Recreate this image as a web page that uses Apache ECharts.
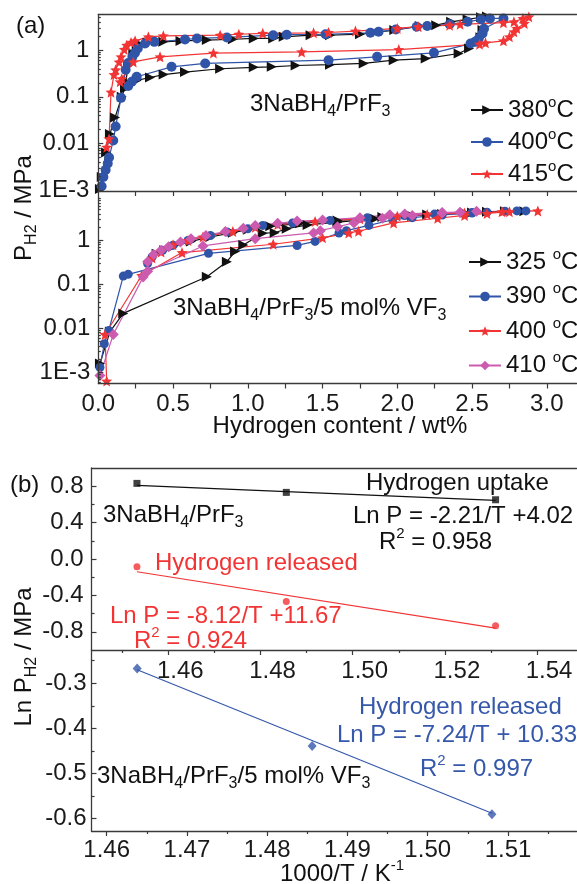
<!DOCTYPE html>
<html>
<head>
<meta charset="utf-8">
<script src="https://cdn.jsdelivr.net/npm/echarts@6/dist/echarts.min.js"></script>
<style>
html,body{margin:0;padding:0;background:#fff;}
#c{width:577px;height:884px;}
</style>
</head>
<body>
<div id="c"></div>
<script>
// ---------- (a) PCI isotherms: [wt% H, P (MPa)] ----------
const pci380 = [[0.011,0.00105],[0.023,0.0019],[0.052,0.0064],[0.078,0.016],[0.112,0.036],[0.157,0.1],[0.179,0.16],[0.2,0.48],[0.234,0.85],[0.257,1.18],[0.268,1.39],[0.33,1.45],[0.435,1.51],[0.55,1.58],[0.726,1.65],[0.9,1.72],[1.04,1.79],[1.17,1.79],[1.24,1.94],[1.42,2.1],[1.55,2.1],[1.75,2.2],[1.98,2.7],[2.15,3.3],[2.26,3.45],[2.36,4.07],[2.47,4.6],[2.56,5.1],[2.6,5.3],[2.58,4.8],[2.57,2.7],[2.556,1.9],[2.48,1.09],[2.41,0.85],[2.19,0.66],[1.976,0.61],[1.775,0.52],[1.55,0.49],[1.32,0.47],[1.16,0.44],[1.04,0.43],[0.815,0.4],[0.58,0.34],[0.437,0.3],[0.346,0.26],[0.257,0.225],[0.2,0.2],[0.18,0.15]];
const pci400 = [[0.022,0.0012],[0.034,0.0019],[0.049,0.0027],[0.063,0.0037],[0.072,0.005],[0.1,0.0115],[0.116,0.023],[0.152,0.095],[0.183,0.38],[0.2,0.53],[0.228,0.72],[0.246,0.88],[0.264,1.09],[0.313,1.39],[0.375,1.51],[0.58,1.7],[0.66,1.79],[0.86,1.88],[1.17,2.1],[1.26,2.15],[1.52,2.2],[1.82,2.36],[1.875,2.48],[1.99,2.79],[2.13,3.2],[2.2,3.3],[2.35,3.6],[2.47,4.07],[2.56,4.6],[2.62,4.8],[2.71,4.8],[2.58,2.9],[2.57,2.29],[2.545,1.79],[2.52,1.51],[2.49,1.39],[2.245,0.88],[1.865,0.72],[1.54,0.61],[0.715,0.52],[0.49,0.44],[0.257,0.27],[0.224,0.21],[0.2,0.17]];
const pci415 = [[0.056,0.0083],[0.072,0.0125],[0.085,0.126],[0.105,0.3],[0.116,0.38],[0.139,0.56],[0.152,0.72],[0.174,1.04],[0.19,1.28],[0.219,1.47],[0.246,1.59],[0.335,1.94],[0.435,2.04],[0.815,2.1],[0.94,2.2],[1.1,2.3],[1.44,2.36],[1.54,2.4],[1.72,2.57],[2.0,2.93],[2.14,3.2],[2.35,3.45],[2.42,3.6],[2.71,3.9],[2.78,4.07],[2.84,4.8],[2.88,5.2],[2.85,3.76],[2.8,2.93],[2.78,2.48],[2.75,1.94],[2.71,1.59],[2.59,1.44],[2.55,1.35],[2.01,1.03],[1.36,0.92],[0.77,0.87],[0.413,0.72],[0.234,0.56],[0.157,0.245],[0.146,0.21]];

const vf325 = [[0.011,0.0016],[0.078,0.0085],[0.167,0.022],[0.726,0.15],[0.86,0.33],[0.915,0.56],[0.97,0.79],[1.1,1.46],[1.18,1.5],[1.26,1.85],[1.4,2.25],[1.6,2.6],[1.85,3.1],[2.1,3.6],[2.3,4.0],[2.5,4.3],[2.6,4.5],[2.72,4.6],[2.85,4.6],[2.45,4.25],[2.2,3.9],[1.9,3.4],[1.6,2.85],[1.35,2.45],[1.15,2.1],[1.0,1.75],[0.9,1.5],[0.75,1.2],[0.62,0.95],[0.5,0.72],[0.44,0.6],[0.39,0.5]];
const vf390 = [[0.011,0.0013],[0.04,0.0045],[0.07,0.009],[0.167,0.155],[0.2,0.17],[0.737,0.51],[1.33,0.77],[1.45,0.95],[1.61,1.48],[1.66,1.67],[1.81,2.2],[1.97,2.96],[2.1,3.3],[2.3,3.8],[2.5,4.2],[2.6,4.4],[2.72,4.6],[2.8,4.7],[2.86,4.7],[2.5,4.3],[2.25,4.0],[2.05,3.7],[1.8,3.3],[1.55,2.85],[1.3,2.5],[1.1,2.2],[1.0,1.85],[0.86,1.55],[0.75,1.3],[0.6,1.0],[0.5,0.78],[0.43,0.6],[0.36,0.42],[0.33,0.3]];
const vf400 = [[0.056,0.00064],[0.045,0.0073],[0.29,0.16],[0.56,0.53],[1.17,0.82],[1.5,1.15],[1.675,1.48],[1.74,1.62],[1.975,2.5],[2.27,3.2],[2.45,3.7],[2.6,4.1],[2.75,4.5],[2.94,4.7],[2.7,4.5],[2.45,4.2],[2.2,3.9],[2.0,3.55],[1.75,3.1],[1.45,2.7],[1.2,2.3],[1.05,2.0],[0.9,1.6],[0.7,1.2],[0.6,1.0],[0.5,0.8],[0.42,0.55],[0.36,0.4]];
const vf410 = [[0.011,0.00085],[0.1,0.0073],[0.3,0.147],[0.33,0.2],[0.7,0.75],[1.05,1.1],[1.44,1.48],[1.485,1.67],[1.6,2.05],[1.71,2.5],[1.9,3.2],[2.1,3.7],[2.3,4.2],[2.42,4.4],[2.53,4.6],[2.3,4.3],[2.05,4.0],[1.95,3.85],[1.75,3.3],[1.5,2.9],[1.33,2.75],[1.2,2.45],[1.05,2.2],[0.97,1.9],[0.85,1.6],[0.72,1.3],[0.62,1.1],[0.55,0.92],[0.47,0.72],[0.42,0.6],[0.37,0.48],[0.33,0.33]];

const wtLabels = [0, 0.5, 1.0, 1.5, 2.0, 2.5, 3.0];
const wtTicks = [0.25, 0.5, 0.75, 1.0, 1.25, 1.5, 1.75, 2.0, 2.25, 2.5, 2.75, 3.0];
const logLabels = [0.001, 0.01, 0.1, 1];

// ---------- (b) van't Hoff plots ----------
const invT = [1.4532, 1.4856, 1.5310];
const lnUptake = [0.831, 0.732, 0.651];
const lnRelease = [-0.086, -0.466, -0.734];
const uptakeFit = [0.81, 0.645];
const releaseFit = [-0.14, -0.76];
const invTvf = [1.4638, 1.4856, 1.5080];
const lnReleaseVf = [-0.267, -0.439, -0.590];
const releaseVfFit = [-0.27, -0.588];

const b1xLabels = [1.46, 1.48, 1.50, 1.52, 1.54];
const b1xMinor = [1.45, 1.47, 1.49, 1.51, 1.53];
const b1yLabels = [-0.8, -0.4, 0.0, 0.4, 0.8];
const b1yMinor = [-0.6, -0.2, 0.2, 0.6];
const b2xLabels = [1.46, 1.47, 1.48, 1.49, 1.50, 1.51];
const b2xMinor = [1.465, 1.475, 1.485, 1.495, 1.505, 1.515];
const b2yLabels = [-0.3, -0.4, -0.5, -0.6];
const b2yMinor = [-0.25, -0.35, -0.45, -0.55];

// ---------- styling ----------
const F = '"Liberation Sans", Arial, Helvetica, sans-serif';
const FS = 24;
const AXC = '#3a3a3a';
const COL = {black: '#111111', blue: '#2f54a8', red: '#f23434', pink: '#cc5bb0', bblue: '#3558aa'};
const STAR = 'path://M0,-10L2.645,-3.64L9.51,-3.09L4.28,1.39L5.88,8.09L0,4.5L-5.88,8.09L-4.28,1.39L-9.51,-3.09L-2.645,-3.64Z';

const A1 = {min: 0.000952, max: 5.84};
const A2 = {min: 0.000562, max: 13.3};
const B1X = {min: 1.44334, max: 1.5486};
const B1Y = {min: -1.0, max: 1.0};
const B2X = {min: 1.45811, max: 1.51856};
const B2Y = {min: -0.6273, max: -0.2262};

function logMinors(lo, hi) {
  const out = [];
  for (let e = -4; e <= 1; e++) {
    for (let m = 2; m <= 9; m++) {
      const v = m * Math.pow(10, e);
      if (v > lo && v < hi) out.push(+v.toPrecision(3));
    }
  }
  return out;
}

const lineSty = {color: AXC, width: 1.3};
function axis(o) {
  return Object.assign({
    type: 'value',
    axisLine: {show: true, onZero: false, lineStyle: lineSty},
    axisTick: {show: false},
    axisLabel: {show: false},
    splitLine: {show: false},
    minorTick: {show: false},
    minorSplitLine: {show: false},
    z: 5
  }, o);
}
function ticks(values, len, inside) {
  return {show: true, customValues: values, length: len, inside: !!inside, lineStyle: {color: AXC, width: 1.2}};
}
function labels(values, margin, fmt, extra) {
  return Object.assign({show: true, customValues: values, margin: margin, fontFamily: F, fontSize: FS, color: '#1a1a1a', formatter: fmt}, extra || {});
}
const fmtLog = v => (Math.abs(v - 0.001) < 1e-9 ? '1E-3' : Math.abs(v - 0.01) < 1e-9 ? '0.01' : Math.abs(v - 0.1) < 1e-9 ? '0.1' : '1');

const xAxis = [
  // a1
  axis({gridIndex: 0, position: 'bottom', min: 0, max: 3.2, axisTick: ticks(wtTicks, 5, false)}),
  axis({gridIndex: 0, position: 'top', min: 0, max: 3.2}),
  // a2
  axis({gridIndex: 1, position: 'bottom', min: 0, max: 3.2, axisTick: ticks(wtTicks, 5, false),
        axisLabel: labels(wtLabels, 9, v => v.toFixed(1))}),
  // b1
  axis({gridIndex: 2, position: 'bottom', min: B1X.min, max: B1X.max, axisTick: ticks(b1xLabels, 5, false),
        axisLabel: labels(b1xLabels, 9, v => v.toFixed(2), {padding: [0, 0, 0, 24]})}),
  axis({gridIndex: 2, position: 'bottom', min: B1X.min, max: B1X.max, axisLine: {show: false, onZero: false}, axisTick: ticks(b1xMinor, 3, false)}),
  axis({gridIndex: 2, position: 'top', min: B1X.min, max: B1X.max}),
  // b2
  axis({gridIndex: 3, position: 'bottom', min: B2X.min, max: B2X.max, axisTick: ticks(b2xLabels, 5, false),
        axisLabel: labels(b2xLabels, 7, v => v.toFixed(2))}),
  axis({gridIndex: 3, position: 'bottom', min: B2X.min, max: B2X.max, axisLine: {show: false, onZero: false}, axisTick: ticks(b2xMinor, 3, false)})
];

const yAxis = [
  // a1
  axis({gridIndex: 0, type: 'log', logBase: 10, position: 'left', min: A1.min, max: A1.max,
        axisTick: ticks(logLabels, 5, true), axisLabel: labels(logLabels, 9, fmtLog)}),
  axis({gridIndex: 0, type: 'log', logBase: 10, position: 'left', min: A1.min, max: A1.max,
        axisLine: {show: false, onZero: false}, axisTick: ticks(logMinors(A1.min, A1.max), 2.5, true)}),
  // a2
  axis({gridIndex: 1, type: 'log', logBase: 10, position: 'left', min: A2.min, max: A2.max,
        axisTick: ticks(logLabels, 5, true), axisLabel: labels(logLabels, 8, fmtLog)}),
  axis({gridIndex: 1, type: 'log', logBase: 10, position: 'left', min: A2.min, max: A2.max,
        axisLine: {show: false, onZero: false}, axisTick: ticks(logMinors(A2.min, A2.max), 2.5, true)}),
  // b1
  axis({gridIndex: 2, position: 'left', min: B1Y.min, max: B1Y.max, axisTick: ticks(b1yLabels, 5, true),
        axisLabel: labels(b1yLabels, 8, v => v.toFixed(1))}),
  axis({gridIndex: 2, position: 'left', min: B1Y.min, max: B1Y.max, axisLine: {show: false, onZero: false}, axisTick: ticks(b1yMinor, 3, true)}),
  // b2
  axis({gridIndex: 3, position: 'left', min: B2Y.min, max: B2Y.max, axisTick: ticks(b2yLabels, 5, true),
        axisLabel: labels(b2yLabels, 5, v => v.toFixed(1))}),
  axis({gridIndex: 3, position: 'left', min: B2Y.min, max: B2Y.max, axisLine: {show: false, onZero: false}, axisTick: ticks(b2yMinor, 3, true)})
];

function pciSeries(name, data, color, symbol, size, rot, xi, yi) {
  return {
    type: 'line', name: name, data: data, xAxisIndex: xi, yAxisIndex: yi,
    symbol: symbol, symbolSize: size, symbolRotate: rot, showSymbol: true, showAllSymbol: true,
    lineStyle: {color: color, width: 1.2}, itemStyle: {color: color, borderWidth: 0},
    animation: false, clip: true
  };
}
const zip = (xs, ys) => xs.map((x, i) => [x, ys[i]]);
const ends = (xs, ys) => [[xs[0], ys[0]], [xs[xs.length - 1], ys[1]]];

const series = [
  pciSeries('380°C', pci380, COL.black, 'triangle', 10, -90, 0, 0),
  pciSeries('400°C', pci400, COL.blue, 'circle', 10, 0, 0, 0),
  pciSeries('415°C', pci415, COL.red, STAR, 11, 0, 0, 0),
  pciSeries('325 °C', vf325, COL.black, 'triangle', 10, -90, 2, 2),
  pciSeries('390 °C', vf390, COL.blue, 'circle', 9, 0, 2, 2),
  pciSeries('400 °C', vf400, COL.red, STAR, 11, 0, 2, 2),
  pciSeries('410 °C', vf410, COL.pink, 'diamond', 11, 0, 2, 2),
  // (b) upper: 3NaBH4/PrF3
  {type: 'line', data: ends(invT, uptakeFit), xAxisIndex: 3, yAxisIndex: 4, showSymbol: false, symbol: 'none',
   lineStyle: {color: COL.black, width: 1.2}, animation: false},
  {type: 'scatter', data: zip(invT, lnUptake), xAxisIndex: 3, yAxisIndex: 4, symbol: 'rect', symbolSize: 7,
   itemStyle: {color: COL.black}, animation: false},
  {type: 'line', data: ends(invT, releaseFit), xAxisIndex: 3, yAxisIndex: 4, showSymbol: false, symbol: 'none',
   lineStyle: {color: COL.red, width: 1.2}, animation: false},
  {type: 'scatter', data: zip(invT, lnRelease), xAxisIndex: 3, yAxisIndex: 4, symbol: 'circle', symbolSize: 7,
   itemStyle: {color: COL.red}, animation: false},
  // (b) lower: with 5 mol% VF3
  {type: 'line', data: ends(invTvf, releaseVfFit), xAxisIndex: 6, yAxisIndex: 6, showSymbol: false, symbol: 'none',
   lineStyle: {color: COL.bblue, width: 1.2}, animation: false},
  {type: 'scatter', data: zip(invTvf, lnReleaseVf), xAxisIndex: 6, yAxisIndex: 6, symbol: 'diamond', symbolSize: [9, 10],
   itemStyle: {color: COL.bblue}, animation: false}
];

// rich text pieces: n = normal, s = subscript, p = superscript
function richG(color) {
  return {
    n: {fontSize: FS, fontFamily: F, fill: color, lineHeight: 32},
    s: {fontSize: 16, fontFamily: F, fill: color, lineHeight: 16, verticalAlign: 'bottom'},
    p: {fontSize: 15, fontFamily: F, fill: color, lineHeight: 15, verticalAlign: 'top'}
  };
}
function txt(x, y, text, color, align, rot) {
  return {type: 'text', x: x, y: y, rotation: rot || 0, silent: true, z: 20,
          style: {text: text, rich: richG(color), align: align || 'left', verticalAlign: 'middle', fill: color}};
}
const K = COL.black, R = COL.red, B = COL.bblue;
const graphic = [
  txt(16, 26, '{n|(a)}', K),
  txt(250, 104, '{n|3NaBH}{s|4}{n|/PrF}{s|3}', K),
  txt(173, 308, '{n|3NaBH}{s|4}{n|/PrF}{s|3}{n|/5 mol% VF}{s|3}', K),
  txt(340, 426, '{n|Hydrogen content / wt%}', K, 'center'),
  txt(24, 208, '{n|P}{s|H2}{n| / MPa}', K, 'center', Math.PI / 2),
  txt(10, 485, '{n|(b)}', K),
  txt(103, 515, '{n|3NaBH}{s|4}{n|/PrF}{s|3}', K),
  txt(366, 483, '{n|Hydrogen uptake}', K),
  txt(353, 516, '{n|Ln P = -2.21/T +4.02}', K),
  txt(379, 542, '{n|R}{p|2}{n| = 0.958}', K),
  txt(155, 563, '{n|Hydrogen released}', R),
  txt(110, 616, '{n|Ln P = -8.12/T +11.67}', R),
  txt(134, 641, '{n|R}{p|2}{n| = 0.924}', R),
  txt(359, 707, '{n|Hydrogen released}', B),
  txt(337, 735, '{n|Ln P = -7.24/T + 10.33}', B),
  txt(420, 769, '{n|R}{p|2}{n| = 0.997}', B),
  txt(97, 776, '{n|3NaBH}{s|4}{n|/PrF}{s|3}{n|/5 mol% VF}{s|3}', K),
  txt(342, 874, '{n|1000/T / K}{p|-1}', K, 'center'),
  txt(24, 657, '{n|Ln P}{s|H2}{n| / MPa}', K, 'center', Math.PI / 2)
];

const legendRich = {
  n: {fontSize: FS, fontFamily: F, color: '#111', lineHeight: 30},
  p: {fontSize: 15, fontFamily: F, color: '#111', lineHeight: 15, verticalAlign: 'top'}
};
const legFmt = name => '{n|' + name.replace('°C', '') + '}{p|o}{n|C}';

const option = {
  backgroundColor: '#ffffff',
  animation: false,
  grid: [
    {left: 98.3, top: 14.5, width: 478.4, height: 176.5},
    {left: 98.3, top: 191, width: 478.4, height: 192.5},
    {left: 91.5, top: 468, width: 485.2, height: 182},
    {left: 91.5, top: 650, width: 485.2, height: 181}
  ],
  xAxis: xAxis,
  yAxis: yAxis,
  legend: [
    {data: ['380°C', '400°C', '415°C'], orient: 'vertical', left: 470, top: 95, itemWidth: 32, itemHeight: 12,
     itemGap: 5, formatter: legFmt, textStyle: {rich: legendRich}, selectedMode: false, padding: 0},
    {data: ['325 °C', '390 °C', '400 °C', '410 °C'], orient: 'vertical', left: 468, top: 247, itemWidth: 32, itemHeight: 12,
     itemGap: 7.5, formatter: legFmt, textStyle: {rich: legendRich}, selectedMode: false, padding: 0}
  ],
  series: series,
  graphic: graphic
};

const chart = echarts.init(document.getElementById('c'), null, {renderer: 'canvas'});
chart.setOption(option);
</script>
</body>
</html>
